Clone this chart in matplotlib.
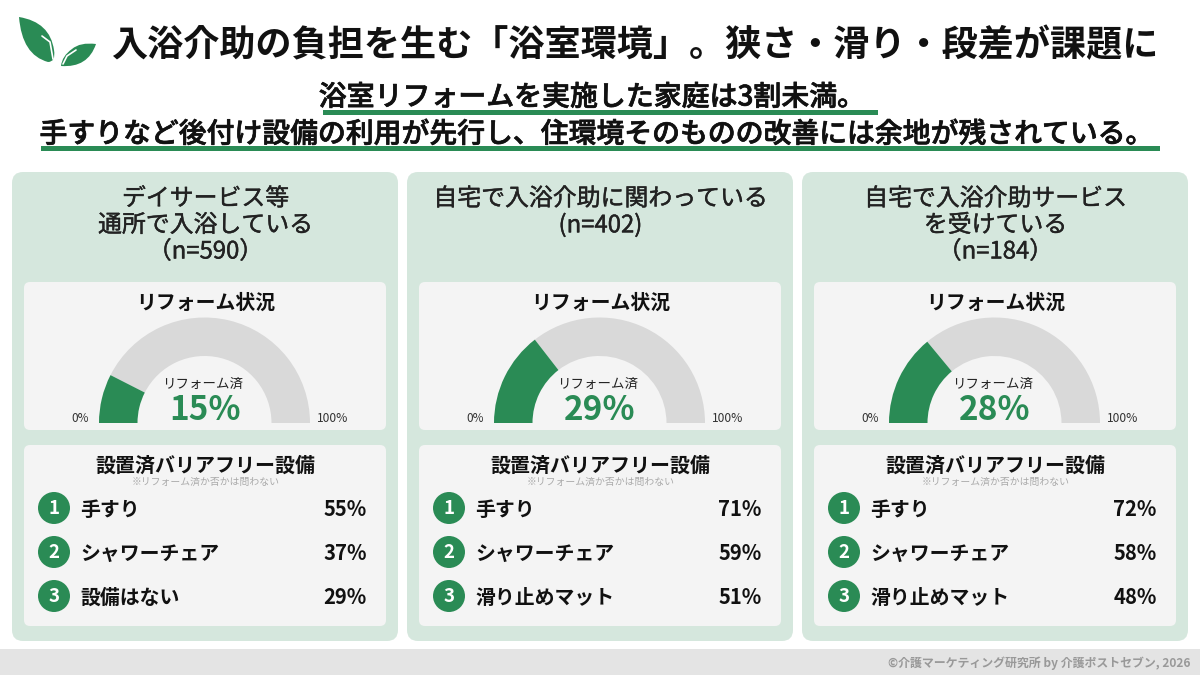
import matplotlib
matplotlib.use("Agg")
import matplotlib.pyplot as plt
import matplotlib.patheffects as pe
from matplotlib.patches import FancyBboxPatch, Rectangle, Wedge, Circle, PathPatch
from matplotlib.path import Path

plt.rcParams['font.family'] = ['Noto Sans CJK JP', 'DejaVu Sans']

title = "入浴介助の負担を生む「浴室環境」。狭さ・滑り・段差が課題に"
sub1 = "浴室リフォームを実施した家庭は3割未満。"
sub2 = "手すりなど後付け設備の利用が先行し、住環境そのものの改善には余地が残されている。"
card_titles = ["デイサービス等\n通所で入浴している\n（n=590）",
               "自宅で入浴介助に関わっている\n(n=402)",
               "自宅で入浴介助サービス\nを受けている\n（n=184）"]
reform_pct = [15, 29, 28]
item_labels = [["手すり", "シャワーチェア", "設備はない"],
               ["手すり", "シャワーチェア", "滑り止めマット"],
               ["手すり", "シャワーチェア", "滑り止めマット"]]
item_values = [[55, 37, 29], [71, 59, 51], [72, 58, 48]]
footer = "©介護マーケティング研究所 by 介護ポストセブン, 2026"

GREEN = "#2a8b55"; CARD = "#d5e7dd"; INNER = "#f4f4f4"; GAUGE = "#d9d9d9"; INK = "#111111"

fig = plt.figure(figsize=(12, 6.75), dpi=100, facecolor="white")
ax = fig.add_axes([0, 0, 1, 1])
ax.set_xlim(0, 1200); ax.set_ylim(0, 675); ax.axis("off")

def Y(p):
    return 675 - p

def rbox(x0, y0, x1, y1, r, color, z=1):
    ax.add_patch(FancyBboxPatch((x0 + r, Y(y1) + r), x1 - x0 - 2 * r, y1 - y0 - 2 * r,
                                boxstyle=f"round,pad={r},rounding_size={r}",
                                fc=color, ec="none", zorder=z))

def txt(x, y, s, size, weight="normal", color=INK, ha="center", va="center", stroke=0, **kw):
    t = ax.text(x, Y(y + 2), s, fontsize=size, fontweight=weight, color=color, ha=ha, va=va, zorder=5, **kw)
    if stroke:
        t.set_path_effects([pe.withStroke(linewidth=stroke, foreground=color)])

def leaf(pts, hole=None):
    verts = [(x, Y(y)) for x, y in pts]
    codes = [Path.MOVETO] + [Path.CURVE3] * (len(pts) - 1)
    ax.add_patch(PathPatch(Path(verts, codes), fc=GREEN, ec="none", zorder=3))
    if hole:
        ax.plot([p[0] for p in hole], [Y(p[1]) for p in hole], color="white", lw=1.2, zorder=4,
                solid_capstyle="round")

# logo
leaf([(19, 17), (50, 22), (54, 50), (56, 62), (48, 62), (22, 55), (19, 17)],
     [(42, 36), (50, 42), (53, 59)])
leaf([(96, 44), (80, 42), (72, 49), (62, 56), (61, 66), (88, 68), (96, 44)],
     [(63, 64), (67, 56), (76, 50)])

# header
txt(635, 44, title, 26, "bold")
txt(591.5, 95, sub1, 20.1, "medium", stroke=0.5)
txt(597, 132, sub2, 20.05, "medium", stroke=0.5)
ax.add_patch(Rectangle((323, Y(115)), 555, 5, fc=GREEN, ec="none", zorder=3))
ax.add_patch(Rectangle((41, Y(151)), 1119, 5, fc=GREEN, ec="none", zorder=3))

# footer
ax.add_patch(Rectangle((0, 0), 1200, 26, fc="#e4e4e4", ec="none", zorder=1))
txt(1191, 661, footer, 8.6, "bold", color="#999999", ha="right")

ROW_Y = [508, 552, 596]
for i, x0 in enumerate([12, 407, 802]):
    rbox(x0, 172, x0 + 386, 641, 11, CARD, 1)
    rbox(x0 + 12, 282, x0 + 374, 430, 6, INNER, 2)
    rbox(x0 + 12, 445, x0 + 374, 626, 6, INNER, 2)
    cx = x0 + 193.5
    lines = card_titles[i].split("\n")
    for j, line in enumerate(lines):
        txt(cx, 197 + j * 26.5, line, 17.2, color="#222222", stroke=0.3)

    txt(cx, 300, "リフォーム状況", 14.3, "bold")
    gx = x0 + 192.5
    split = 180 - 180 * reform_pct[i] / 100
    ax.add_patch(Wedge((gx, Y(423)), 105.5, 0, split, width=38.5, fc=GAUGE, ec="none", zorder=3))
    ax.add_patch(Wedge((gx, Y(423)), 105.5, split, 180, width=38.5, fc=GREEN, ec="none", zorder=3))
    txt(gx - 2, 382, "リフォーム済", 9.7, color="#222222")
    txt(gx + 0.5, 409, f"{reform_pct[i]}%", 24, "bold", color=GREEN)
    txt(x0 + 68, 417, "0%", 8.5, color="#333333")
    txt(x0 + 321, 417, "100%", 8.7, color="#333333")

    txt(cx, 463, "設置済バリアフリー設備", 14.4, "bold")
    txt(cx, 480, "※リフォーム済か否かは問わない", 7.1, color="#aaaaaa")
    for k, py in enumerate(ROW_Y):
        ax.add_patch(Circle((x0 + 42, Y(py)), 16, fc=GREEN, ec="none", zorder=3))
        txt(x0 + 42, py - 1, str(k + 1), 13.5, "bold", color="white")
        txt(x0 + 68.5, py - 1, item_labels[i][k], 14.3, "bold", ha="left")
        txt(x0 + 354.5, py - 1, f"{item_values[i][k]}%", 14.6, "bold", ha="right")

fig.savefig("out.png", dpi=100, facecolor="white")
